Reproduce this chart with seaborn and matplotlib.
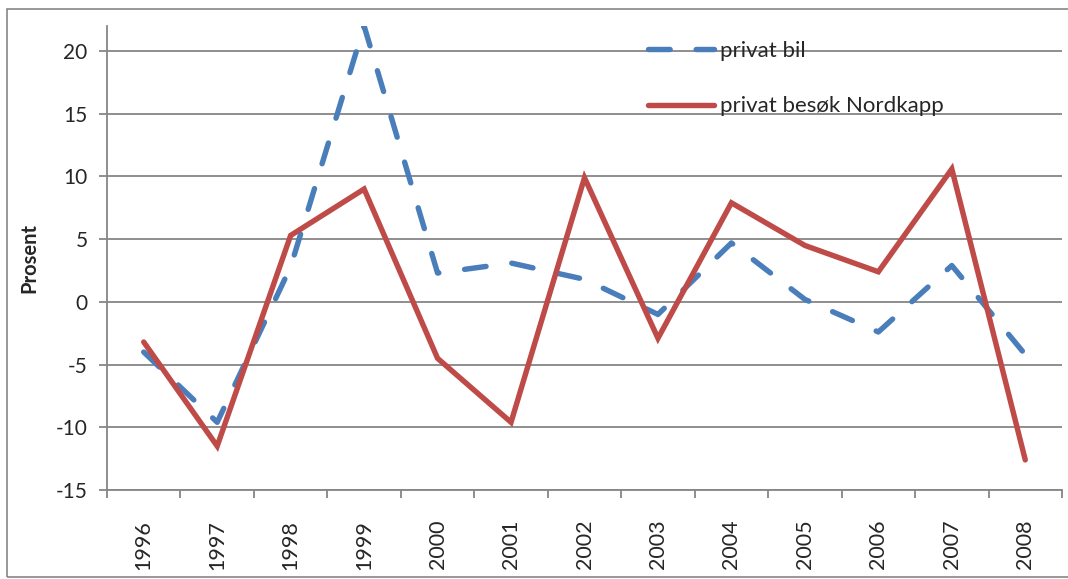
import numpy as np
import pandas as pd
import seaborn as sns
import matplotlib.pyplot as plt
from matplotlib.patches import Rectangle

years = [1996, 1997, 1998, 1999, 2000, 2001, 2002, 2003, 2004, 2005, 2006, 2007, 2008]
privat_bil = [-4.0, -9.6, 2.8, 22.0, 2.3, 3.1, 1.8, -1.0, 4.7, 0.2, -2.4, 2.9, -4.2]
privat_nordkapp = [-3.2, -11.5, 5.3, 9.0, -4.5, -9.6, 9.9, -2.9, 7.9, 4.5, 2.4, 10.6, -12.6]
series_names = ['privat bil', 'privat besøk Nordkapp']

df = pd.DataFrame({'År': years * 2,
                   'Prosent': privat_bil + privat_nordkapp,
                   'Serie': [series_names[0]] * len(years) + [series_names[1]] * len(years)})

sns.set_style('white')
plt.rcParams['font.family'] = ['Lato', 'DejaVu Sans']
plt.rcParams['axes.unicode_minus'] = False
grid_col = '#868686'

fig = plt.figure(figsize=(10.68, 5.79), dpi=100)
ax = fig.add_axes([107 / 1068, 1 - 490 / 579, (1062 - 107) / 1068, (490 - 26) / 579])

sns.lineplot(data=df, x='År', y='Prosent', hue='Serie', style='Serie',
             palette=['#4A7EBB', '#BE4B48'], dashes=[(4.0, 4.8), ''],
             linewidth=3.9, ax=ax, legend=True)
for ln in ax.get_lines():
    ln.set_dash_capstyle('round')
    ln.set_solid_capstyle('round')
    ln.set_solid_joinstyle('miter')

ax.set_xlim(years[0] - 0.5, years[-1] + 0.5)
ax.set_ylim(-15, 22)
ax.set_yticks(range(-15, 21, 5))
ax.set_xticks(years)
ax.set_xticklabels([str(y) for y in years], rotation=90)
ax.set_xticks(np.arange(years[0] - 0.5, years[-1] + 1, 1), minor=True)
ax.yaxis.grid(True, color=grid_col, linewidth=1.3)
ax.set_axisbelow(True)
for s in ['top', 'right']:
    ax.spines[s].set_visible(False)
for s in ['left', 'bottom']:
    ax.spines[s].set_color(grid_col)
    ax.spines[s].set_linewidth(1.3)
ax.tick_params(axis='y', which='major', left=True, length=6, width=1.3, color=grid_col,
               labelsize=15, pad=8)
ax.tick_params(axis='x', which='major', bottom=False, labelsize=15.5, pad=18)
ax.tick_params(axis='x', which='minor', bottom=True, length=6, width=1.3, color=grid_col)
ax.set_xlabel('')
ax.set_ylabel('Prosent', fontsize=14.5, fontweight='bold', labelpad=12)

handles, labels = ax.get_legend_handles_labels()
ax.legend(handles, labels, loc='upper left', bbox_to_anchor=(0.566, 0.968),
          frameon=False, fontsize=16, handlelength=3.0, handletextpad=0.25,
          labelspacing=1.6, borderpad=0, borderaxespad=0)

fig.patches.append(Rectangle((7 / 1068, 1 - 577 / 579), 1.1, 568 / 579,
                             transform=fig.transFigure, fill=False,
                             edgecolor=grid_col, linewidth=1.2))

fig.savefig('out.png', dpi=100)
